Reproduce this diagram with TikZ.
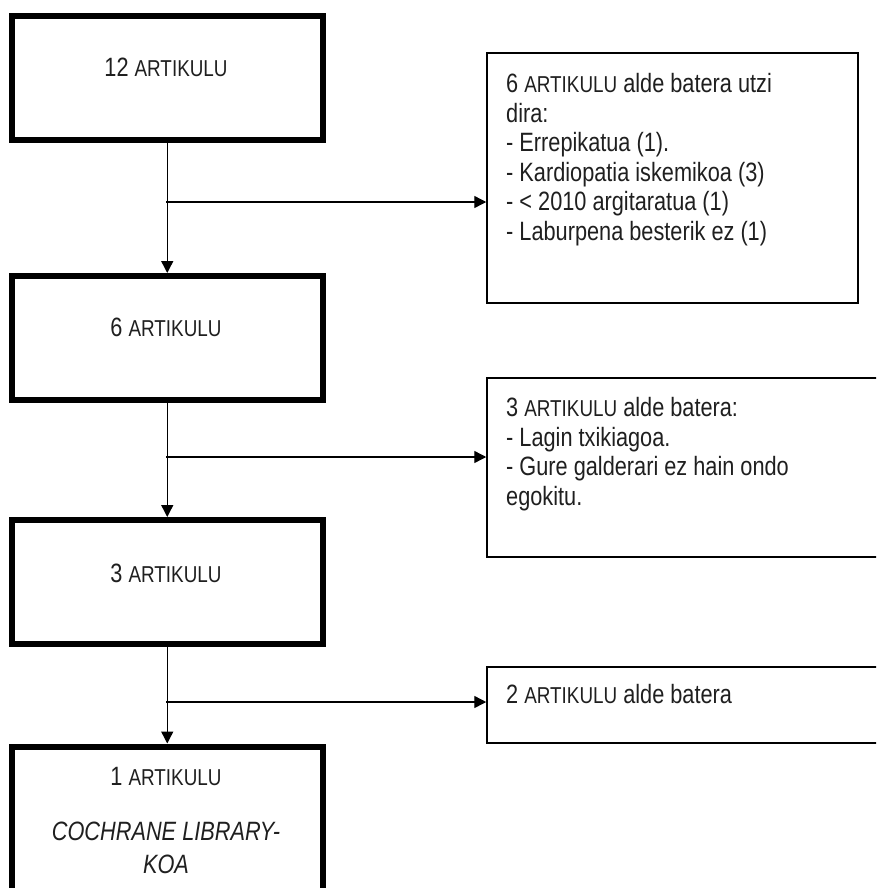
\documentclass[tikz,border=0pt]{standalone}
\usepackage{fontspec}
\setmainfont{Liberation Sans}
\newfontfamily\narrowsans[FakeStretch=0.82]{Liberation Sans}
\usetikzlibrary{arrows.meta}
\newcommand{\art}{{\fontsize{23}{29.5}\selectfont ARTIKULU}}
\begin{document}
\begin{tikzpicture}[x=1pt,y=-1pt,
  font=\narrowsans\fontsize{26.5}{29.5}\selectfont,
  mainbox/.style={draw, line width=6pt, minimum width=310.5pt, minimum height=124pt, inner sep=0pt, anchor=north west},
  sidebox/.style={draw, line width=1.5pt, inner sep=0pt, anchor=north west},
  lbl/.style={inner sep=0pt, text=black!88},
  conn/.style={line width=1.4pt, -{Triangle[length=12pt,width=12pt]}},
  plain/.style={line width=1.4pt}]
\useasboundingbox (0,0) rectangle (876,888);
\clip (0,0) rectangle (876,888);
% left boxes
\node[mainbox] (m1) at (9,13) {};
\node[mainbox] (m2) at (9,273) {};
\node[mainbox] (m3) at (9,517) {};
\node[mainbox, minimum height=200pt] (m4) at (9,743.5) {};
% right boxes
\node[sidebox, minimum width=371pt, minimum height=250pt] (r1) at (486.25,52.25) {};
\node[sidebox, minimum width=420pt, minimum height=179pt] (r2) at (486.25,377.25) {};
\node[sidebox, minimum width=420pt, minimum height=76pt] (r3) at (486.25,666.25) {};
% texts left
\node[lbl, anchor=base] (t1) at (166,77) {12 \art};
\node[lbl, anchor=base] (t2) at (166,336) {6 \art};
\node[lbl, anchor=base] (t3) at (166,582) {3 \art};
\node[lbl, anchor=base] (t4) at (166,785) {1 \art};
\node[lbl, anchor=base] (t4b) at (166,840) {\textit{COCHRANE LIBRARY-}};
\node[lbl, anchor=base] (t4c) at (166,873) {\textit{KOA}};
% texts right
\node[lbl, anchor=north west, align=left] (s1) at (506,73.5)
  {6 \art{} alde batera utzi\\dira:\\- Errepikatua (1).\\- Kardiopatia iskemikoa (3)\\- < 2010 argitaratua (1)\\- Laburpena besterik ez (1)};
\node[lbl, anchor=north west, align=left] (s2) at (506,397.5)
  {3 \art{} alde batera:\\- Lagin txikiagoa.\\- Gure galderari ez hain ondo\\egokitu.};
\node[lbl, anchor=base west] (s3) at (506,703) {2 \art{} alde batera};
% connectors
\coordinate (j1) at (166,202);
\coordinate (j2) at (166,457);
\coordinate (j3) at (166,702);
\draw[conn] (m1.south) -- (m2.north);
\draw[conn] (m2.south) -- (m3.north);
\draw[conn] (m3.south) -- (m4.north);
\draw[conn] (j1) -- (j1 -| r1.west);
\draw[conn] (j2) -- (j2 -| r2.west);
\draw[conn] (j3) -- (j3 -| r3.west);
\end{tikzpicture}
\end{document}
